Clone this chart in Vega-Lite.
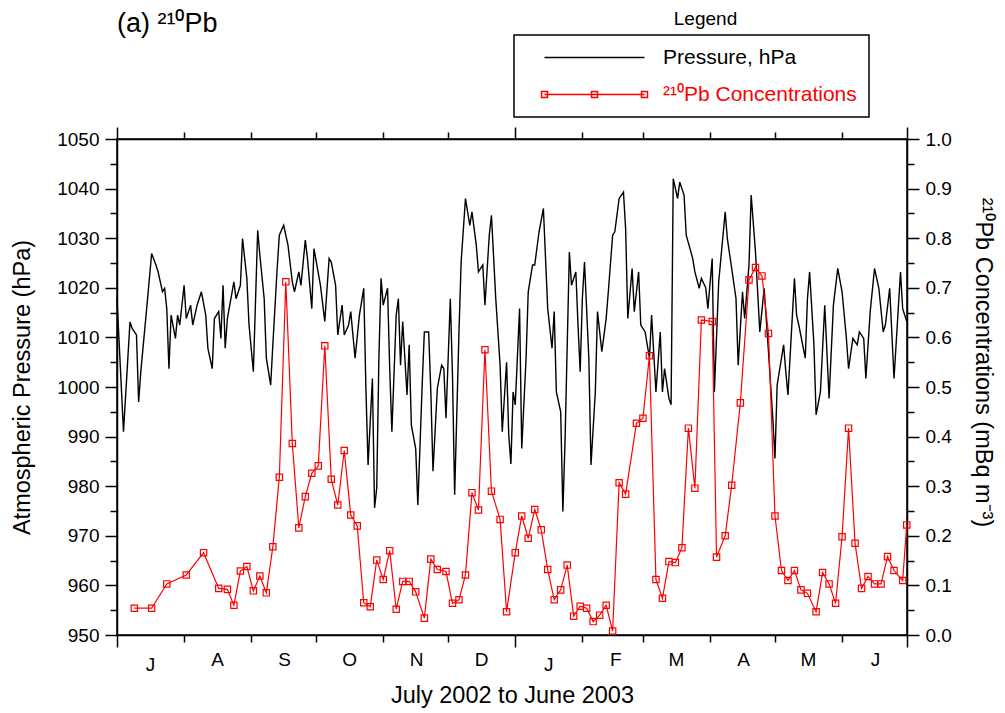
{
  "$schema": "https://vega.github.io/schema/vega-lite/v6.json",
  "width": 790,
  "height": 496,
  "autosize": {"type": "none"},
  "padding": {"left": 117, "top": 139, "right": 98, "bottom": 78},
  "background": "white",
  "title": {"text": "(a) ²¹⁰Pb", "anchor": "start", "frame": "group", "offset": 0, "dy": 29, "fontSize": 27, "font": "Liberation Sans", "fontWeight": "normal", "color": "black"},
  "datasets": {
    "pressure": [
      {"date": "2002-07-01", "pressure": 1017.8}, {"date": "2002-07-04", "pressure": 991.0}, {"date": "2002-07-07", "pressure": 1013.1}, {"date": "2002-07-08", "pressure": 1011.8}, {"date": "2002-07-10", "pressure": 1010.5}, {"date": "2002-07-11", "pressure": 997.0}, {"date": "2002-07-12", "pressure": 1003.1}, {"date": "2002-07-15", "pressure": 1017.2}, {"date": "2002-07-17", "pressure": 1026.9}, {"date": "2002-07-19", "pressure": 1024.6}, {"date": "2002-07-20", "pressure": 1023.2}, {"date": "2002-07-22", "pressure": 1019.2}, {"date": "2002-07-23", "pressure": 1019.9}, {"date": "2002-07-24", "pressure": 1015.8}, {"date": "2002-07-25", "pressure": 1003.7}, {"date": "2002-07-26", "pressure": 1014.5}, {"date": "2002-07-28", "pressure": 1009.8}, {"date": "2002-07-29", "pressure": 1014.5}, {"date": "2002-07-30", "pressure": 1012.5},
      {"date": "2002-08-01", "pressure": 1020.5}, {"date": "2002-08-02", "pressure": 1013.8}, {"date": "2002-08-04", "pressure": 1016.5}, {"date": "2002-08-05", "pressure": 1012.5}, {"date": "2002-08-07", "pressure": 1016.5}, {"date": "2002-08-09", "pressure": 1019.2}, {"date": "2002-08-11", "pressure": 1014.5}, {"date": "2002-08-12", "pressure": 1007.8}, {"date": "2002-08-14", "pressure": 1003.7}, {"date": "2002-08-15", "pressure": 1013.8}, {"date": "2002-08-17", "pressure": 1015.2}, {"date": "2002-08-18", "pressure": 1009.8}, {"date": "2002-08-19", "pressure": 1020.5}, {"date": "2002-08-20", "pressure": 1007.8}, {"date": "2002-08-21", "pressure": 1013.8}, {"date": "2002-08-24", "pressure": 1021.2}, {"date": "2002-08-25", "pressure": 1017.8}, {"date": "2002-08-27", "pressure": 1020.5}, {"date": "2002-08-28", "pressure": 1029.9}, {"date": "2002-08-30", "pressure": 1021.9}, {"date": "2002-08-31", "pressure": 1012.5},
      {"date": "2002-09-02", "pressure": 1003.1}, {"date": "2002-09-04", "pressure": 1031.6}, {"date": "2002-09-05", "pressure": 1026.6}, {"date": "2002-09-07", "pressure": 1017.8}, {"date": "2002-09-08", "pressure": 1005.8}, {"date": "2002-09-10", "pressure": 1000.4}, {"date": "2002-09-11", "pressure": 1008.5}, {"date": "2002-09-13", "pressure": 1023.9}, {"date": "2002-09-14", "pressure": 1030.6}, {"date": "2002-09-16", "pressure": 1032.6}, {"date": "2002-09-18", "pressure": 1028.6}, {"date": "2002-09-20", "pressure": 1021.2}, {"date": "2002-09-21", "pressure": 1019.2}, {"date": "2002-09-23", "pressure": 1023.2}, {"date": "2002-09-24", "pressure": 1020.5}, {"date": "2002-09-26", "pressure": 1029.6}, {"date": "2002-09-27", "pressure": 1025.9}, {"date": "2002-09-29", "pressure": 1015.8}, {"date": "2002-09-30", "pressure": 1027.9},
      {"date": "2002-10-03", "pressure": 1020.5}, {"date": "2002-10-05", "pressure": 1013.2}, {"date": "2002-10-07", "pressure": 1025.9}, {"date": "2002-10-08", "pressure": 1025.2}, {"date": "2002-10-10", "pressure": 1020.5}, {"date": "2002-10-11", "pressure": 1010.5}, {"date": "2002-10-13", "pressure": 1016.5}, {"date": "2002-10-14", "pressure": 1010.5}, {"date": "2002-10-16", "pressure": 1012.5}, {"date": "2002-10-17", "pressure": 1015.2}, {"date": "2002-10-19", "pressure": 1005.8}, {"date": "2002-10-21", "pressure": 1014.5}, {"date": "2002-10-23", "pressure": 1019.9}, {"date": "2002-10-24", "pressure": 999.7}, {"date": "2002-10-25", "pressure": 984.3}, {"date": "2002-10-27", "pressure": 1001.7}, {"date": "2002-10-28", "pressure": 975.6}, {"date": "2002-10-29", "pressure": 979.6}, {"date": "2002-10-30", "pressure": 1005.8}, {"date": "2002-10-31", "pressure": 1021.9},
      {"date": "2002-11-01", "pressure": 1016.5}, {"date": "2002-11-03", "pressure": 1019.9}, {"date": "2002-11-04", "pressure": 1003.7}, {"date": "2002-11-05", "pressure": 991.0}, {"date": "2002-11-07", "pressure": 1014.5}, {"date": "2002-11-08", "pressure": 1017.8}, {"date": "2002-11-09", "pressure": 1004.4}, {"date": "2002-11-10", "pressure": 1013.2}, {"date": "2002-11-12", "pressure": 998.4}, {"date": "2002-11-13", "pressure": 1008.5}, {"date": "2002-11-14", "pressure": 992.3}, {"date": "2002-11-16", "pressure": 987.6}, {"date": "2002-11-17", "pressure": 976.2}, {"date": "2002-11-19", "pressure": 1000.4}, {"date": "2002-11-20", "pressure": 1011.1}, {"date": "2002-11-22", "pressure": 1011.1}, {"date": "2002-11-23", "pressure": 999.0}, {"date": "2002-11-24", "pressure": 983.0}, {"date": "2002-11-26", "pressure": 999.7}, {"date": "2002-11-28", "pressure": 1004.4}, {"date": "2002-11-29", "pressure": 1003.7}, {"date": "2002-11-30", "pressure": 993.7},
      {"date": "2002-12-02", "pressure": 1017.8}, {"date": "2002-12-03", "pressure": 1002.4}, {"date": "2002-12-04", "pressure": 978.3}, {"date": "2002-12-06", "pressure": 1011.1}, {"date": "2002-12-07", "pressure": 1025.2}, {"date": "2002-12-09", "pressure": 1038.0}, {"date": "2002-12-11", "pressure": 1032.6}, {"date": "2002-12-12", "pressure": 1035.3}, {"date": "2002-12-14", "pressure": 1028.6}, {"date": "2002-12-15", "pressure": 1023.2}, {"date": "2002-12-17", "pressure": 1024.6}, {"date": "2002-12-18", "pressure": 1016.5}, {"date": "2002-12-20", "pressure": 1030.6}, {"date": "2002-12-21", "pressure": 1034.6}, {"date": "2002-12-23", "pressure": 1017.8}, {"date": "2002-12-25", "pressure": 1004.4}, {"date": "2002-12-26", "pressure": 991.0}, {"date": "2002-12-28", "pressure": 1005.0}, {"date": "2002-12-29", "pressure": 990.3}, {"date": "2002-12-30", "pressure": 984.5}, {"date": "2002-12-31", "pressure": 999.0},
      {"date": "2003-01-01", "pressure": 996.4}, {"date": "2003-01-03", "pressure": 1015.8}, {"date": "2003-01-04", "pressure": 987.6}, {"date": "2003-01-06", "pressure": 1005.8}, {"date": "2003-01-07", "pressure": 1019.2}, {"date": "2003-01-09", "pressure": 1024.6}, {"date": "2003-01-10", "pressure": 1024.6}, {"date": "2003-01-12", "pressure": 1031.3}, {"date": "2003-01-14", "pressure": 1036.0}, {"date": "2003-01-15", "pressure": 1025.9}, {"date": "2003-01-16", "pressure": 1015.8}, {"date": "2003-01-18", "pressure": 1007.8}, {"date": "2003-01-19", "pressure": 1015.2}, {"date": "2003-01-20", "pressure": 999.0}, {"date": "2003-01-22", "pressure": 995.0}, {"date": "2003-01-23", "pressure": 974.9}, {"date": "2003-01-24", "pressure": 989.0}, {"date": "2003-01-26", "pressure": 1027.2}, {"date": "2003-01-27", "pressure": 1020.5}, {"date": "2003-01-29", "pressure": 1023.2}, {"date": "2003-01-30", "pressure": 1012.5}, {"date": "2003-01-31", "pressure": 1003.1},
      {"date": "2003-02-01", "pressure": 1017.8}, {"date": "2003-02-02", "pressure": 1025.2}, {"date": "2003-02-04", "pressure": 1005.8}, {"date": "2003-02-05", "pressure": 984.3}, {"date": "2003-02-07", "pressure": 999.0}, {"date": "2003-02-08", "pressure": 1015.2}, {"date": "2003-02-10", "pressure": 1007.1}, {"date": "2003-02-12", "pressure": 1013.8}, {"date": "2003-02-13", "pressure": 1019.2}, {"date": "2003-02-15", "pressure": 1030.6}, {"date": "2003-02-16", "pressure": 1031.3}, {"date": "2003-02-18", "pressure": 1038.0}, {"date": "2003-02-20", "pressure": 1039.3}, {"date": "2003-02-21", "pressure": 1031.9}, {"date": "2003-02-22", "pressure": 1013.8}, {"date": "2003-02-24", "pressure": 1023.9}, {"date": "2003-02-25", "pressure": 1015.2}, {"date": "2003-02-27", "pressure": 1023.2}, {"date": "2003-02-28", "pressure": 1012.5},
      {"date": "2003-03-02", "pressure": 1011.1}, {"date": "2003-03-04", "pressure": 1005.8}, {"date": "2003-03-05", "pressure": 1014.5}, {"date": "2003-03-07", "pressure": 999.0}, {"date": "2003-03-09", "pressure": 1011.1}, {"date": "2003-03-10", "pressure": 999.0}, {"date": "2003-03-11", "pressure": 1003.7}, {"date": "2003-03-13", "pressure": 997.7}, {"date": "2003-03-14", "pressure": 996.4}, {"date": "2003-03-15", "pressure": 1042.0}, {"date": "2003-03-17", "pressure": 1038.0}, {"date": "2003-03-18", "pressure": 1041.3}, {"date": "2003-03-20", "pressure": 1038.7}, {"date": "2003-03-21", "pressure": 1030.6}, {"date": "2003-03-24", "pressure": 1025.9}, {"date": "2003-03-25", "pressure": 1023.2}, {"date": "2003-03-27", "pressure": 1019.9}, {"date": "2003-03-28", "pressure": 1021.9}, {"date": "2003-03-30", "pressure": 1020.0}, {"date": "2003-03-31", "pressure": 1015.8},
      {"date": "2003-04-02", "pressure": 1025.9}, {"date": "2003-04-03", "pressure": 999.0}, {"date": "2003-04-05", "pressure": 1021.2}, {"date": "2003-04-08", "pressure": 1035.3}, {"date": "2003-04-09", "pressure": 1029.9}, {"date": "2003-04-11", "pressure": 1023.9}, {"date": "2003-04-13", "pressure": 1017.8}, {"date": "2003-04-14", "pressure": 1004.4}, {"date": "2003-04-16", "pressure": 1019.2}, {"date": "2003-04-17", "pressure": 1013.8}, {"date": "2003-04-19", "pressure": 1024.6}, {"date": "2003-04-20", "pressure": 1038.7}, {"date": "2003-04-22", "pressure": 1027.2}, {"date": "2003-04-24", "pressure": 1011.1}, {"date": "2003-04-26", "pressure": 1019.9}, {"date": "2003-04-28", "pressure": 1007.1}, {"date": "2003-04-30", "pressure": 993.7},
      {"date": "2003-05-01", "pressure": 985.6}, {"date": "2003-05-02", "pressure": 1000.4}, {"date": "2003-05-03", "pressure": 1003.1}, {"date": "2003-05-05", "pressure": 1008.5}, {"date": "2003-05-06", "pressure": 1003.1}, {"date": "2003-05-07", "pressure": 998.4}, {"date": "2003-05-10", "pressure": 1021.9}, {"date": "2003-05-11", "pressure": 1014.5}, {"date": "2003-05-12", "pressure": 1012.5}, {"date": "2003-05-15", "pressure": 1005.8}, {"date": "2003-05-16", "pressure": 1017.8}, {"date": "2003-05-17", "pressure": 1023.2}, {"date": "2003-05-19", "pressure": 1008.5}, {"date": "2003-05-20", "pressure": 994.4}, {"date": "2003-05-22", "pressure": 999.0}, {"date": "2003-05-24", "pressure": 1016.5}, {"date": "2003-05-26", "pressure": 997.7}, {"date": "2003-05-28", "pressure": 1016.5}, {"date": "2003-05-30", "pressure": 1023.9},
      {"date": "2003-06-01", "pressure": 1019.2}, {"date": "2003-06-03", "pressure": 1009.8}, {"date": "2003-06-04", "pressure": 1003.7}, {"date": "2003-06-06", "pressure": 1009.8}, {"date": "2003-06-08", "pressure": 1008.5}, {"date": "2003-06-09", "pressure": 1011.1}, {"date": "2003-06-11", "pressure": 1009.8}, {"date": "2003-06-12", "pressure": 1001.7}, {"date": "2003-06-14", "pressure": 1015.2}, {"date": "2003-06-16", "pressure": 1023.9}, {"date": "2003-06-18", "pressure": 1019.9}, {"date": "2003-06-20", "pressure": 1011.1}, {"date": "2003-06-21", "pressure": 1012.5}, {"date": "2003-06-23", "pressure": 1019.9}, {"date": "2003-06-25", "pressure": 1001.7}, {"date": "2003-06-28", "pressure": 1023.2}, {"date": "2003-06-29", "pressure": 1015.8}, {"date": "2003-06-30T21:00:00Z", "pressure": 1013.2}
    ],
    "pb": [
      {"date": "2002-07-09", "pb": 0.054}, {"date": "2002-07-17", "pb": 0.054}, {"date": "2002-07-24", "pb": 0.103}, {"date": "2002-08-02", "pb": 0.121}, {"date": "2002-08-10", "pb": 0.166}, {"date": "2002-08-17", "pb": 0.094}, {"date": "2002-08-21", "pb": 0.092}, {"date": "2002-08-24", "pb": 0.060}, {"date": "2002-08-27", "pb": 0.129}, {"date": "2002-08-30", "pb": 0.138},
      {"date": "2002-09-02", "pb": 0.089}, {"date": "2002-09-05", "pb": 0.119}, {"date": "2002-09-08", "pb": 0.085}, {"date": "2002-09-11", "pb": 0.178}, {"date": "2002-09-14", "pb": 0.318}, {"date": "2002-09-17", "pb": 0.712}, {"date": "2002-09-20", "pb": 0.386}, {"date": "2002-09-23", "pb": 0.216}, {"date": "2002-09-26", "pb": 0.279}, {"date": "2002-09-29", "pb": 0.326},
      {"date": "2002-10-02", "pb": 0.341}, {"date": "2002-10-05", "pb": 0.583}, {"date": "2002-10-08", "pb": 0.314}, {"date": "2002-10-11", "pb": 0.262}, {"date": "2002-10-14", "pb": 0.372}, {"date": "2002-10-17", "pb": 0.242}, {"date": "2002-10-20", "pb": 0.220}, {"date": "2002-10-23", "pb": 0.065}, {"date": "2002-10-26", "pb": 0.057}, {"date": "2002-10-29", "pb": 0.151},
      {"date": "2002-11-01", "pb": 0.112}, {"date": "2002-11-04", "pb": 0.170}, {"date": "2002-11-07", "pb": 0.052}, {"date": "2002-11-10", "pb": 0.108}, {"date": "2002-11-13", "pb": 0.108}, {"date": "2002-11-16", "pb": 0.087}, {"date": "2002-11-20", "pb": 0.034}, {"date": "2002-11-23", "pb": 0.153}, {"date": "2002-11-26", "pb": 0.132}, {"date": "2002-11-30", "pb": 0.128},
      {"date": "2002-12-03", "pb": 0.064}, {"date": "2002-12-06", "pb": 0.071}, {"date": "2002-12-09", "pb": 0.121}, {"date": "2002-12-12", "pb": 0.287}, {"date": "2002-12-15", "pb": 0.252}, {"date": "2002-12-18", "pb": 0.575}, {"date": "2002-12-21", "pb": 0.290}, {"date": "2002-12-25", "pb": 0.233}, {"date": "2002-12-28", "pb": 0.047},
      {"date": "2003-01-01", "pb": 0.166}, {"date": "2003-01-04", "pb": 0.240}, {"date": "2003-01-07", "pb": 0.195}, {"date": "2003-01-10", "pb": 0.253}, {"date": "2003-01-13", "pb": 0.212}, {"date": "2003-01-16", "pb": 0.132}, {"date": "2003-01-19", "pb": 0.071}, {"date": "2003-01-22", "pb": 0.091}, {"date": "2003-01-25", "pb": 0.141}, {"date": "2003-01-28", "pb": 0.038}, {"date": "2003-01-31", "pb": 0.058},
      {"date": "2003-02-03", "pb": 0.054}, {"date": "2003-02-06", "pb": 0.027}, {"date": "2003-02-09", "pb": 0.040}, {"date": "2003-02-12", "pb": 0.060}, {"date": "2003-02-15", "pb": 0.008}, {"date": "2003-02-18", "pb": 0.307}, {"date": "2003-02-21", "pb": 0.284}, {"date": "2003-02-26", "pb": 0.427},
      {"date": "2003-03-01", "pb": 0.437}, {"date": "2003-03-04", "pb": 0.563}, {"date": "2003-03-07", "pb": 0.112}, {"date": "2003-03-10", "pb": 0.074}, {"date": "2003-03-13", "pb": 0.148}, {"date": "2003-03-16", "pb": 0.146}, {"date": "2003-03-19", "pb": 0.176}, {"date": "2003-03-22", "pb": 0.417}, {"date": "2003-03-25", "pb": 0.296}, {"date": "2003-03-28", "pb": 0.635},
      {"date": "2003-04-02", "pb": 0.632}, {"date": "2003-04-04", "pb": 0.157}, {"date": "2003-04-08", "pb": 0.200}, {"date": "2003-04-11", "pb": 0.302}, {"date": "2003-04-15", "pb": 0.468}, {"date": "2003-04-19", "pb": 0.716}, {"date": "2003-04-22", "pb": 0.741}, {"date": "2003-04-25", "pb": 0.724}, {"date": "2003-04-28", "pb": 0.608},
      {"date": "2003-05-01", "pb": 0.240}, {"date": "2003-05-04", "pb": 0.130}, {"date": "2003-05-07", "pb": 0.110}, {"date": "2003-05-10", "pb": 0.130}, {"date": "2003-05-13", "pb": 0.091}, {"date": "2003-05-16", "pb": 0.084}, {"date": "2003-05-20", "pb": 0.047}, {"date": "2003-05-23", "pb": 0.126}, {"date": "2003-05-26", "pb": 0.103}, {"date": "2003-05-29", "pb": 0.064},
      {"date": "2003-06-01", "pb": 0.198}, {"date": "2003-06-04", "pb": 0.417}, {"date": "2003-06-07", "pb": 0.185}, {"date": "2003-06-10", "pb": 0.094}, {"date": "2003-06-13", "pb": 0.118}, {"date": "2003-06-16", "pb": 0.103}, {"date": "2003-06-19", "pb": 0.103}, {"date": "2003-06-22", "pb": 0.158}, {"date": "2003-06-25", "pb": 0.130}, {"date": "2003-06-29", "pb": 0.110}, {"date": "2003-06-30T21:00:00Z", "pb": 0.222}
    ]
  },
  "layer": [
    {
      "data": {"name": "pressure"},
      "mark": {"type": "line", "strokeWidth": 1.4},
      "encoding": {
        "x": {
          "field": "date", "type": "temporal",
          "scale": {"type": "utc", "domain": [{"year": 2002, "month": 7, "date": 1, "utc": true}, {"year": 2003, "month": 7, "date": 1, "utc": true}]},
          "axis": {
            "orient": "bottom",
            "title": "July 2002 to June 2003",
            "values": [{"year": 2002, "month": 7, "date": 1, "utc": true}, {"year": 2002, "month": 8, "date": 1, "utc": true}, {"year": 2002, "month": 9, "date": 1, "utc": true}, {"year": 2002, "month": 10, "date": 1, "utc": true}, {"year": 2002, "month": 11, "date": 1, "utc": true}, {"year": 2002, "month": 12, "date": 1, "utc": true}, {"year": 2003, "month": 1, "date": 1, "utc": true}, {"year": 2003, "month": 2, "date": 1, "utc": true}, {"year": 2003, "month": 3, "date": 1, "utc": true}, {"year": 2003, "month": 4, "date": 1, "utc": true}, {"year": 2003, "month": 5, "date": 1, "utc": true}, {"year": 2003, "month": 6, "date": 1, "utc": true}, {"year": 2003, "month": 7, "date": 1, "utc": true}],
            "labelExpr": "(utcyear(datum.value) === 2003 && utcmonth(datum.value) === 6) ? '' : ['J','F','M','A','M','J','J','A','S','O','N','D'][utcmonth(datum.value)]",
            "labelOffset": 33,
            "labelPadding": 8,
            "labelFlush": false,
            "labelOverlap": false,
            "tickSize": {"condition": {"test": "utcmonth(datum.value) === 0 || utcmonth(datum.value) === 6", "value": 12}, "value": 7},
            "titlePadding": 9
          }
        },
        "y": {
          "field": "pressure", "type": "quantitative",
          "scale": {"domain": [950, 1050], "nice": false, "zero": false},
          "axis": {
            "orient": "left",
            "title": "Atmospheric Pressure (hPa)",
            "values": [950, 955, 960, 965, 970, 975, 980, 985, 990, 995, 1000, 1005, 1010, 1015, 1020, 1025, 1030, 1035, 1040, 1045, 1050],
            "labelExpr": "datum.value % 10 === 0 ? datum.label : ''",
            "format": "d",
            "tickSize": {"condition": {"test": "datum.value % 10 === 0", "value": 12}, "value": 7},
            "labelPadding": 6,
            "titlePadding": 22
          }
        },
        "color": {
          "datum": "Pressure, hPa", "type": "nominal",
          "scale": {"domain": ["Pressure, hPa", "²¹⁰Pb Concentrations"], "range": ["black", "#ff0000"]},
          "legend": {
            "orient": "none", "legendX": 397, "legendY": -104,
            "title": null,
            "strokeColor": "black",
            "padding": 12,
            "rowPadding": 15,
            "symbolSize": 100,
            "symbolStrokeWidth": 1.5,
            "symbolType": "M1.6,0H21.6",
            "labelOffset": 116,
            "labelFontSize": 21,
            "labelFont": "Liberation Sans",
            "labelLimit": 400,
            "labelExpr": "datum.value === 'Pressure, hPa' ? datum.label : datum.label + '\u00a0\u00a0\u00a0\u00a0\u00a0\u00a0\u00a0'",
            "encode": {
              "symbols": {"update": {"shape": {"signal": "datum.value === 'Pressure, hPa' ? 'M1.6,0H21.6' : 'M1.6,0H21.6M1,-0.6h1.2v1.2h-1.2zM11,-0.6h1.2v1.2h-1.2zM21,-0.6h1.2v1.2h-1.2z'"}, "fill": {"value": "transparent"}}},
              "labels": {"update": {"fill": {"signal": "datum.value === 'Pressure, hPa' ? 'black' : '#ff0000'"}}},
              "legend": {"update": {"strokeWidth": {"value": 1.5}}}
            }
          }
        }
      }
    },
    {
      "data": {"name": "pb"},
      "mark": {"type": "line", "strokeWidth": 1.2, "point": {"shape": "square", "filled": false, "size": 40, "strokeWidth": 1.2}},
      "encoding": {
        "x": {
          "field": "date", "type": "temporal",
          "scale": {"type": "utc", "domain": [{"year": 2002, "month": 7, "date": 1, "utc": true}, {"year": 2003, "month": 7, "date": 1, "utc": true}]},
          "axis": {
            "orient": "top",
            "title": "Legend",
            "titleX": 588, "titleY": -121,
            "titleAlign": "center", "titleBaseline": "middle", "titleAnchor": null,
            "titleFontSize": 19,
            "labels": false,
            "values": [{"year": 2002, "month": 7, "date": 1, "utc": true}, {"year": 2002, "month": 8, "date": 1, "utc": true}, {"year": 2002, "month": 9, "date": 1, "utc": true}, {"year": 2002, "month": 10, "date": 1, "utc": true}, {"year": 2002, "month": 11, "date": 1, "utc": true}, {"year": 2002, "month": 12, "date": 1, "utc": true}, {"year": 2003, "month": 1, "date": 1, "utc": true}, {"year": 2003, "month": 2, "date": 1, "utc": true}, {"year": 2003, "month": 3, "date": 1, "utc": true}, {"year": 2003, "month": 4, "date": 1, "utc": true}, {"year": 2003, "month": 5, "date": 1, "utc": true}, {"year": 2003, "month": 6, "date": 1, "utc": true}, {"year": 2003, "month": 7, "date": 1, "utc": true}],
            "tickSize": {"condition": {"test": "utcmonth(datum.value) === 0 || utcmonth(datum.value) === 6", "value": 12}, "value": 7}
          }
        },
        "y": {
          "field": "pb", "type": "quantitative",
          "scale": {"domain": [0, 1], "nice": false},
          "axis": {
            "orient": "right",
            "title": "²¹⁰Pb Concentrations (mBq m⁻³)",
            "titleY": 223,
            "titleAnchor": null,
            "values": [0, 0.05, 0.1, 0.15, 0.2, 0.25, 0.3, 0.35, 0.4, 0.45, 0.5, 0.55, 0.6, 0.65, 0.7, 0.75, 0.8, 0.85, 0.9, 0.95, 1.0],
            "labelExpr": "round(datum.value * 100) % 10 === 0 ? format(datum.value, '.1f') : ''",
            "tickSize": {"condition": {"test": "round(datum.value * 100) % 10 === 0", "value": 12}, "value": 7},
            "labelPadding": 6,
            "titlePadding": 19
          }
        },
        "color": {"datum": "²¹⁰Pb Concentrations", "type": "nominal"}
      }
    }
  ],
  "resolve": {"scale": {"y": "independent"}, "axis": {"x": "independent"}},
  "config": {
    "view": {"stroke": "black", "strokeWidth": 1.5},
    "font": "Liberation Sans",
    "axis": {
      "grid": false,
      "domainColor": "black", "domainWidth": 1.5,
      "tickColor": "black", "tickWidth": 1.5,
      "labelColor": "black", "titleColor": "black",
      "labelFont": "Liberation Sans", "titleFont": "Liberation Sans",
      "labelFontSize": 19, "titleFontSize": 23.5, "titleFontWeight": "normal"
    }
  }
}
